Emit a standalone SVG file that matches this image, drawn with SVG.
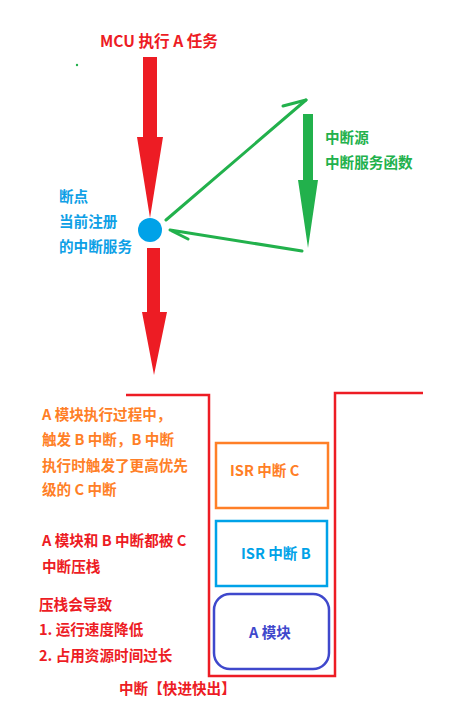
<svg xmlns="http://www.w3.org/2000/svg" width="456" height="708" viewBox="0 0 456 708">
<style>
text{font-family:"Noto Sans CJK SC","Noto Sans",sans-serif;font-weight:bold;font-size:14.6px}
.red{fill:#ed1c24}.green{fill:#22b14c}.blue{fill:#0ea0e6}.orange{fill:#ff7f27}.purple{fill:#3f48cc}
.gl{fill:none;stroke:#22b14c;stroke-width:3;stroke-linecap:round;stroke-linejoin:round}
</style>
<rect width="456" height="708" fill="#fff"/>
<g id="title"><text class="red" x="100" y="47" style="font-size:15.6px">MCU 执行 A 任务</text></g>
<circle cx="77" cy="65" r="1.2" fill="#22b14c"/>
<g id="connectors">
  <polygon fill="#ed1c24" points="143,57 157,57 157,137 163,137 150,218 137,137 143,137"/>
  <polygon fill="#ed1c24" points="147,248 160,248 160,312 167,312 154,375 142,312 147,312"/>
  <polygon fill="#22b14c" points="303,114 313,114 313,180 318,180 308,248 298,180 303,180"/>
  <polyline class="gl" points="166,220 306,100"/>
  <polyline class="gl" points="283,106 306,100"/>
  <polyline class="gl" points="302,251 170,230 188,239"/>
</g>
<g id="breakpoint">
  <circle cx="150" cy="230" r="12" fill="#00a2e8"/>
  <text class="blue" x="59" y="202">断点</text>
  <text class="blue" x="59" y="227">当前注册</text>
  <text class="blue" x="59" y="252">的中断服务</text>
</g>
<g id="isr-source">
  <text class="green" x="325" y="143">中断源</text>
  <text class="green" x="325" y="168">中断服务函数</text>
</g>
<g id="stack">
  <polyline points="126,395 209,395 209,676 335,676 335,393 423,393" fill="none" stroke="#ed1c24" stroke-width="2.5"/>
</g>
<g id="isr-c">
  <rect x="216" y="443" width="112" height="65" fill="none" stroke="#ff7f27" stroke-width="2.5"/>
  <text class="orange" x="230" y="476">ISR 中断 C</text>
</g>
<g id="isr-b">
  <rect x="216" y="521" width="111" height="65" fill="none" stroke="#00a2e8" stroke-width="2.5"/>
  <text class="blue" x="241" y="559" style="fill:#00a2e8">ISR 中断 B</text>
</g>
<g id="a-module">
  <rect x="214" y="594" width="115" height="75" rx="16" fill="none" stroke="#3f48cc" stroke-width="2.5"/>
  <text class="purple" x="249" y="638">A 模块</text>
</g>
<g id="notes">
  <text class="orange" x="42" y="420">A 模块执行过程中，</text>
  <text class="orange" x="42" y="445">触发 B 中断，B 中断</text>
  <text class="orange" x="42" y="471">执行时触发了更高优先</text>
  <text class="orange" x="42" y="495">级的 C 中断</text>
  <text class="red" x="42" y="546">A 模块和 B 中断都被 C</text>
  <text class="red" x="42" y="572">中断压栈</text>
  <text class="red" x="39" y="610">压栈会导致</text>
  <text class="red" x="39" y="635">1. 运行速度降低</text>
  <text class="red" x="39" y="661">2. 占用资源时间过长</text>
  <text class="red" x="119" y="694">中断【快进快出】</text>
</g>
</svg>
